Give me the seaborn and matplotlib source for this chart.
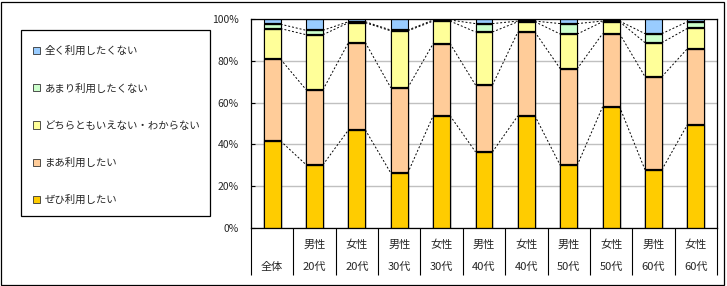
import numpy as np
import pandas as pd
import matplotlib.pyplot as plt
import seaborn as sns
from matplotlib.patches import Patch, Rectangle
from matplotlib.transforms import blended_transform_factory

sns.set_style('white')
plt.rcParams['font.family'] = ['Noto Sans CJK JP', 'DejaVu Sans']

# data (percent)
groups = ['全体', '男性20代', '女性20代', '男性30代', '女性30代', '男性40代',
          '女性40代', '男性50代', '女性50代', '男性60代', '女性60代']
sex_row = ['', '男性', '女性', '男性', '女性', '男性', '女性', '男性', '女性', '男性', '女性']
age_row = ['全体', '20代', '20代', '30代', '30代', '40代', '40代', '50代', '50代', '60代', '60代']

zehi   = [41.6, 30.3, 46.9, 26.3, 53.7, 36.4, 53.7, 30.0, 58.0, 27.9, 49.4]   # ぜひ利用したい
maa    = [39.1, 35.9, 41.8, 40.8, 34.5, 32.0, 40.1, 46.2, 35.0, 44.5, 36.4]   # まあ利用したい
dochi  = [14.7, 26.3,  9.5, 27.2, 10.8, 25.4,  4.9, 16.6,  5.7, 16.3,  9.7]   # どちらともいえない
amari  = [ 2.1,  2.1,  0.5,  0.4,  0.5,  4.0,  0.3,  5.0,  0.3,  4.3,  3.2]   # あまり利用したくない
mattaku = [2.5, 5.4, 1.3, 5.3, 0.5, 2.2, 1.0, 2.2, 1.0, 7.0, 1.3]             # 全く利用したくない

series_names = ['ぜひ利用したい', 'まあ利用したい', 'どちらともいえない・わからない',
                'あまり利用したくない', '全く利用したくない']
colors = ['#FFCC00', '#FFCC99', '#FFFF99', '#CCFFCC', '#99CCFF']

vals = np.array([zehi, maa, dochi, amari, mattaku])
vals = vals / vals.sum(axis=0) * 100          # 100% stacked
cum = np.cumsum(vals, axis=0)

fig = plt.figure(figsize=(7.27, 2.86), dpi=100)
ax = fig.add_axes([251/727, 1 - 228/286, (717 - 251)/727, (228 - 19)/286])

# stacked bars: draw tallest cumulative first, then overlay
bw = 0.4
for k in range(4, -1, -1):
    df = pd.DataFrame({'group': groups, 'value': cum[k]})
    sns.barplot(data=df, x='group', y='value', order=groups, color=colors[k],
                saturation=1, width=bw, edgecolor='black', linewidth=0.8, ax=ax)

x = np.arange(len(groups))
# thick boundaries between segments
for k in range(4):
    ax.hlines(cum[k], x - bw/2, x + bw/2, colors='black', linewidth=1.6, zorder=4)

# dashed series lines
for k in range(4):
    for i in range(len(groups) - 1):
        ax.plot([x[i] + bw/2, x[i + 1] - bw/2], [cum[k][i], cum[k][i + 1]],
                color='black', linewidth=0.7, linestyle=(0, (2, 2)), zorder=3)

ax.set_ylim(0, 100)
ax.set_xlim(-0.5, len(groups) - 0.5)
ax.set_yticks([0, 20, 40, 60, 80, 100])
ax.set_yticklabels(['0%', '20%', '40%', '60%', '80%', '100%'], fontsize=7.5)
ax.yaxis.grid(True, color='#C0C0C0', linewidth=1)
ax.set_axisbelow(True)
ax.tick_params(axis='y', direction='in', length=3, width=0.8, color='black', pad=9, left=True)
ax.set_xlabel('')
ax.set_ylabel('')
ax.set_xticks(x)
ax.set_xticklabels([])
ax.tick_params(axis='x', which='major', length=0)
ax.set_xticks(np.arange(-0.5, len(groups)), minor=True)
ax.tick_params(axis='x', which='minor', direction='out', length=34, width=0.8,
               color='black', bottom=True)
for s in ax.spines.values():
    s.set_color('black')
    s.set_linewidth(0.9)

tr = blended_transform_factory(ax.transData, ax.transAxes)
for i in range(len(groups)):
    if sex_row[i]:
        ax.text(x[i], -0.081, sex_row[i], transform=tr, ha='center', va='center', fontsize=8)
    ax.text(x[i], -0.188, age_row[i], transform=tr, ha='center', va='center', fontsize=8)

# legend box
fig.add_artist(Rectangle((21/727, 1 - 216/286), 189/727, 186/286, transform=fig.transFigure,
                         fill=False, edgecolor='black', linewidth=0.9))
handles = [Patch(facecolor=colors[k], edgecolor='#333333', linewidth=0.6) for k in range(4, -1, -1)]
labels = [series_names[k] for k in range(4, -1, -1)]
fig.legend(handles, labels, loc='upper left', bbox_to_anchor=(33/727, 1 - 46/286),
           frameon=False, fontsize=7.5, handlelength=0.7, handleheight=0.7,
           handletextpad=0.4, labelspacing=2.6, borderpad=0, borderaxespad=0)

# outer border
fig.add_artist(Rectangle((0.5/727, 1.5/286), 723/727, 283/286, transform=fig.transFigure,
                         fill=False, edgecolor='black', linewidth=0.9))

fig.savefig('out.png', dpi=100)
